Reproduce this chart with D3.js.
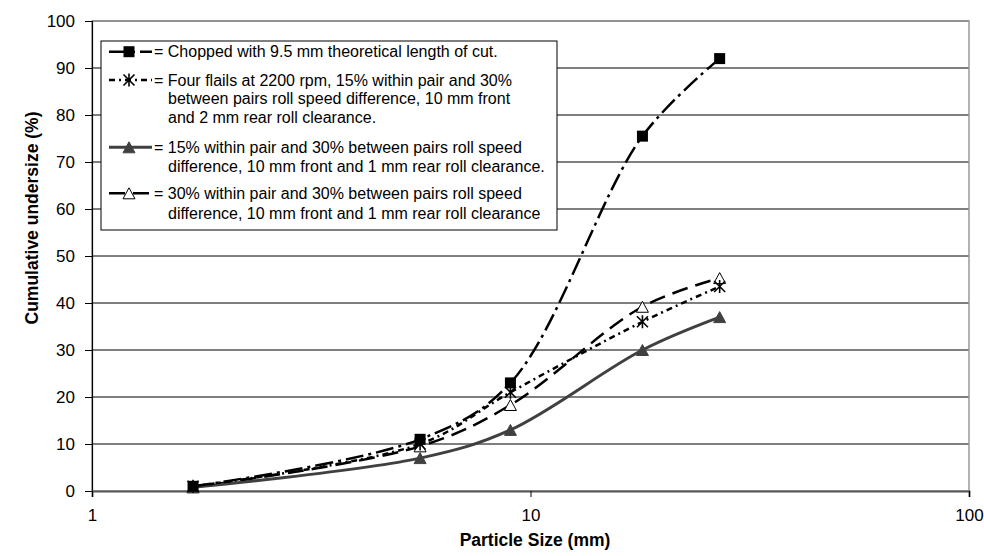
<!DOCTYPE html>
<html>
<head>
<meta charset="utf-8">
<script src="https://cdn.jsdelivr.net/npm/d3@7"></script>
<style>
  body { margin: 0; background: #fff; }
  text { font-family: "Liberation Sans", Arial, sans-serif; fill: #000; }
</style>
</head>
<body>
<svg class="chart_svg" width="984" height="556"></svg>
<script>
// data
var sizes = [1.7, 5.6, 9.0, 18, 27];
var chopped = [1, 11, 23, 75.5, 92];
var fourFlails = [1, 10, 21, 36, 43.5];
var roll15 = [0.8, 7, 13, 30, 37];
var roll30 = [0.8, 9.5, 18.3, 39.2, 45.3];
var yTicks = [0, 10, 20, 30, 40, 50, 60, 70, 80, 90, 100];
var xTicks = [1, 10, 100];
var legendLines = [
    ["= Chopped with 9.5 mm theoretical length of cut."],
    ["= Four flails at 2200 rpm, 15% within pair and 30%", "between pairs roll speed difference, 10 mm front", "and 2 mm rear roll clearance."],
    ["= 15% within pair and 30% between pairs roll speed", "difference, 10 mm front and 1 mm rear roll clearance."],
    ["= 30% within pair and 30% between pairs roll speed", "difference, 10 mm front and 1 mm rear roll clearance"]
];

var series = [
    {vals: chopped, marker: "square", color: "#000", dash: "18,5,3,5", width: 2.5},
    {vals: fourFlails, marker: "star", color: "#000", dash: "6,4,2,4", width: 2.5},
    {vals: roll15, marker: "tri", color: "#404040", dash: null, width: 3},
    {vals: roll30, marker: "opentri", color: "#000", dash: "16,8", width: 2.5}
];

var svg = d3.select(".chart_svg"),
    pLeft = 92, pRight = 969, pTop = 21, pBottom = 491;

var x = d3.scaleLog().domain([1, 100]).range([pLeft, pRight]);
var y = d3.scaleLinear().domain([0, 100]).range([pBottom, pTop]);

// gridlines
svg.append("g").selectAll("line")
    .data(yTicks.slice(1))
    .enter().append("line")
    .attr("x1", pLeft).attr("x2", pRight)
    .attr("y1", function (d) { return y(d); })
    .attr("y2", function (d) { return y(d); })
    .attr("stroke", "#000")
    .attr("stroke-width", 1);

// plot area border (grey)
svg.append("rect")
    .attr("x", pLeft).attr("y", pTop)
    .attr("width", pRight - pLeft).attr("height", pBottom - pTop)
    .attr("fill", "none")
    .attr("stroke", "#999")
    .attr("stroke-width", 1.5);

// axes
var yAxis = d3.axisLeft(y).tickValues(yTicks).tickSize(7).tickPadding(10);
var gy = svg.append("g").attr("transform", "translate(" + pLeft + ",0)").call(yAxis);
var xAxis = d3.axisBottom(x).tickValues(xTicks).tickFormat(d3.format("d")).tickSize(6).tickPadding(12);
var gx = svg.append("g").attr("transform", "translate(0," + pBottom + ")").call(xAxis);
[gx, gy].forEach(function (g) {
    g.select(".domain").attr("stroke", "#000").attr("stroke-width", 1.2);
    g.selectAll(".tick line").attr("stroke", "#000");
    g.selectAll("text").style("font-family", "Liberation Sans").style("font-size", "17px").attr("fill", "#000");
});
gx.select(".domain").attr("stroke", "#555").attr("stroke-width", 2);

// axis titles
svg.append("text")
    .text("Particle Size (mm)")
    .attr("x", 535).attr("y", 546)
    .attr("text-anchor", "middle")
    .style("font-size", "17.5px").style("font-weight", "bold");
svg.append("text")
    .text("Cumulative undersize (%)")
    .attr("transform", "translate(38,218) rotate(-90)")
    .attr("text-anchor", "middle")
    .style("font-size", "17.5px").style("font-weight", "bold");

function draw_marker(g, type, cx, cy, color) {
    if (type === "square") {
        g.append("rect").attr("x", cx - 5.5).attr("y", cy - 5.5)
            .attr("width", 11).attr("height", 11).attr("fill", "#000");
    } else if (type === "star") {
        var r = 5.5;
        g.append("path")
            .attr("d", "M" + (cx - r) + "," + (cy - r) + "L" + (cx + r) + "," + (cy + r) +
                "M" + (cx - r) + "," + (cy + r) + "L" + (cx + r) + "," + (cy - r) +
                "M" + cx + "," + (cy - r - 1) + "L" + cx + "," + (cy + r + 1))
            .attr("stroke", "#000").attr("stroke-width", 1.6).attr("fill", "none");
    } else {
        var h = 11, w = 12;
        g.append("path")
            .attr("d", "M" + cx + "," + (cy - h / 2) + "L" + (cx + w / 2) + "," + (cy + h / 2) +
                "L" + (cx - w / 2) + "," + (cy + h / 2) + "Z")
            .attr("fill", type === "tri" ? color : "#fff")
            .attr("stroke", type === "tri" ? color : "#000")
            .attr("stroke-width", 1);
    }
}

var line = d3.line()
    .x(function (d) { return x(d[0]); })
    .y(function (d) { return y(d[1]); })
    .curve(d3.curveCatmullRom.alpha(0.5));

var plot = svg.append("g");
// draw lines first, in reverse so the chopped line sits on top
series.slice().reverse().forEach(function (s) {
    var pts = sizes.map(function (v, i) { return [v, s.vals[i]]; });
    plot.append("path")
        .attr("d", line(pts))
        .attr("fill", "none")
        .attr("stroke", s.color)
        .attr("stroke-width", s.width)
        .attr("stroke-dasharray", s.dash);
});
series.slice().reverse().forEach(function (s) {
    sizes.forEach(function (v, i) {
        draw_marker(plot, s.marker, x(v), y(s.vals[i]), s.color);
    });
});

// legend
var lg = svg.append("g");
lg.append("rect")
    .attr("x", 101).attr("y", 41)
    .attr("width", 456).attr("height", 189)
    .attr("fill", "#fff")
    .attr("stroke", "#000")
    .attr("stroke-width", 1);

var rowY = [[51.7], [80, 98.7, 117.3], [147.3, 166], [193.3, 213.3]];
legendLines.forEach(function (rows, k) {
    var s = series[k], ly = rowY[k][0];
    lg.append("line")
        .attr("x1", 109).attr("x2", 152)
        .attr("y1", ly).attr("y2", ly)
        .attr("stroke", s.color)
        .attr("stroke-width", s.width)
        .attr("stroke-dasharray", s.dash);
    draw_marker(lg, s.marker, 129, ly, s.color);
    rows.forEach(function (t, j) {
        lg.append("text")
            .text(t)
            .attr("x", j === 0 ? 154 : 168)
            .attr("y", rowY[k][j])
            .attr("dy", ".35em")
            .style("font-size", "16px");
    });
});
</script>
</body>
</html>
